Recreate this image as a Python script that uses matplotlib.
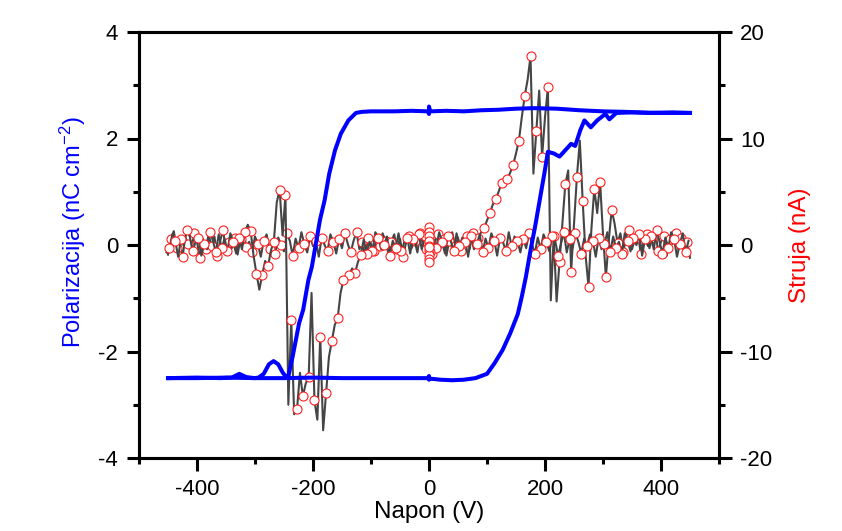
import numpy as np
import matplotlib
matplotlib.use('Agg')
import matplotlib.pyplot as plt
from matplotlib.ticker import MultipleLocator

plt.rcParams['font.family'] = ['Liberation Sans', 'DejaVu Sans']
plt.rcParams['mathtext.fontset'] = 'custom'
plt.rcParams['mathtext.rm'] = 'Liberation Sans'
plt.rcParams['mathtext.default'] = 'regular'
plt.rcParams['axes.unicode_minus'] = False

# polarization loop, upper branch (voltage going down)
v_down_P = [450, 420, 380, 340, 300, 260, 220, 180, 150, 120, 90, 60, 30, 2, 0, 0, -2,
            -30, -60, -100, -116, -126, -139, -152, -162, -172, -180, -188, -194, -202,
            -208, -217, -224, -235, -242, -246, -252, -260, -268, -276, -285, -294, -301,
            -315, -327, -340, -360, -400, -450]
P_down = [2.48, 2.49, 2.48, 2.50, 2.51, 2.53, 2.56, 2.57, 2.56, 2.54, 2.53, 2.51, 2.52, 2.51,
          2.60, 2.46, 2.51, 2.52, 2.51, 2.51, 2.50, 2.48, 2.34, 2.09, 1.78, 1.34, 0.84, 0.47,
          0.09, -0.41, -0.66, -1.22, -1.47, -2.09, -2.44, -2.48, -2.40, -2.24, -2.18, -2.24,
          -2.42, -2.49, -2.50, -2.48, -2.42, -2.49, -2.50, -2.49, -2.50]

# polarization loop, lower branch (voltage going up)
v_up_P = [-450, -400, -350, -300, -250, -200, -150, -100, -50, -2, 0, 0, 2, 20, 40, 60, 80,
          100, 113, 127, 140, 153, 160, 167, 175, 183, 191, 199, 205, 215, 225, 235, 245,
          252, 261, 268, 279, 290, 304, 311, 323, 350, 400, 450]
P_up = [-2.50, -2.50, -2.49, -2.50, -2.50, -2.49, -2.50, -2.50, -2.50, -2.50, -2.46, -2.53,
        -2.51, -2.53, -2.54, -2.53, -2.50, -2.42, -2.22, -1.97, -1.66, -1.30, -0.97, -0.60,
        -0.10, 0.35, 0.85, 1.35, 1.75, 1.72, 1.66, 1.78, 1.90, 1.86, 2.16, 2.34, 2.21, 2.34,
        2.46, 2.36, 2.48, 2.49, 2.48, 2.48]

# switching current, voltage going up from -450 to 450 in 5 V steps
I_up = [-0.9, 0.6, 1.3, -0.3, 0.4, -1.1, 0.7, 0.1, -0.7, 1.1,
        0.3, -1.2, 0.6, -0.4, 1.0, -0.1, 0.8, -1.0, 0.4, 1.4,
        -0.6, 0.3, -0.3, 0.7, -0.9, 0.6, 1.3, -0.2, 0.3, -0.7,
        0.8, 0.1, -1.1, 0.4, 1.0, -0.4, 0.3, -0.8, 0.7, 0.0,
        -0.6, 1.1, 0.4, -1.0, 0.6, -0.3, 1.2, 0.1, -0.7, 0.8,
        -0.1, 0.4, -1.1, 0.7, 0.0, -0.6, 1.0, 0.3, -0.8, 0.6,
        -0.3, 1.1, 0.1, -0.7, 0.4, 1.2, -0.4, 0.3, -1.0, 0.7,
        0.1, -0.6, 0.8, -0.1, 1.1, 0.4, -0.8, 0.3, 1.0, -0.4,
        0.6, -1.1, 0.1, 0.8, -0.3, 0.4, -0.7, 1.1, 0.0, -0.4,
        0.7, -0.8, 0.3, 1.0, -0.3, 0.6, -1.0, 0.4, 1.2, -0.1,
        0.7, -0.6, 0.3, 0.8, -0.4, 1.1, 0.1, 0.7, 1.2, 1.6,
        2.3, 3.0, 3.8, 4.3, 5.0, 5.8, 5.9, 6.2, 6.8, 7.5,
        8.6, 9.8, 12.0, 14.0, 15.5, 17.7, 6.7, 10.7, 14.5, 8.3,
        12.0, 14.8, -5.2, 0.8, -5.3, -1.6, 2.0, 5.7, 7.0, -2.5,
        2.0, 6.4, 9.8, 4.1, -1.0, -3.9, 1.5, 5.3, 3.0, 5.9,
        1.0, -3.0, 0.5, 3.3, 2.0, 0.2, 1.1, -0.7, 0.8, 1.4,
        -0.4, 0.6, 1.2, -0.8, 0.4, 1.0, -0.3, 0.7, 1.5, -0.6,
        0.3, 0.8, -1.0, 0.6, 0.1, 1.1, -0.4, 0.7, -0.8, 0.3,
        -1.2]

# switching current, voltage going down from 447.5 to -452.5 in 5 V steps
I_down = [0.4, -0.7, 1.1, 0.1, -1.1, 0.6, 1.2, -0.3, 0.7, -0.8,
          0.3, 1.4, -0.4, 0.8, -0.1, 0.6, -1.0, 1.0, 0.0, 0.7,
          -0.6, 0.4, 1.1, -0.8, 0.3, -0.3, 0.8, -0.7, 1.2, 0.1,
          -0.4, 0.7, -1.1, 0.4, 1.0, -0.1, 0.6, -0.8, 0.3, 1.1,
          -0.3, 0.6, -0.7, 1.2, 0.1, -1.0, 0.4, 0.8, -0.6, 0.3,
          1.0, -0.4, 0.7, -0.8, 0.1, 1.1, -0.3, 0.6, -0.7, 0.4,
          0.8, -0.1, 1.2, -0.6, 0.3, 0.7, -1.0, 0.4, 1.1, -0.3,
          0.6, -0.7, 1.0, 0.1, -0.4, 0.8, -1.1, 0.3, 0.7, -0.1,
          1.1, -0.6, 0.4, 0.8, -0.8, 0.3, 1.2, -0.3, 0.6, -0.7,
          0.1, 0.8, -0.4, 1.0, -0.1, 0.6, -0.8, 0.7, 0.3, -0.6,
          1.1, -0.3, 0.4, -1.0, 0.8, 0.0, -0.4, 0.7, 1.2, -0.6,
          0.3, -0.8, 0.5, -0.9, -1.6, -2.6, -2.2, -2.8, -3.0, -3.3,
          -4.5, -6.9, -7.5, -9.0, -10.5, -13.9, -17.4, -8.6, -16.4, -14.6,
          -4.5, -12.4, -13.0, -14.2, -12.0, -15.4, -15.9, -7.0, -15.0, 4.7,
          0.9, 5.2, 4.0, 0.3, -0.5, -2.0, -1.5, -2.8, -4.2, -2.7,
          -1.0, 1.3, 1.9, 1.2, -0.4, 0.7, -0.8, 0.3, 1.1, -0.6,
          0.6, -0.3, 1.0, -0.7, 0.4, 1.2, -0.4, 0.1, -1.0, 0.7,
          0.3, -0.6, 0.8, 1.4, -0.1, 0.6, -1.1, 0.4, 1.0, -0.3,
          -0.7]

# readings taken while the voltage sat at 0 V
I_zero = [0.3, 1.7, 1.2, 0.8, 0.4, -0.1, -0.5, -0.9, -1.3, -1.6, -0.2]

v_up_I = np.arange(-450, 451, 5)
v_down_I = np.arange(447.5, -453, -5)

fig = plt.figure(figsize=(8.42, 5.31), dpi=100)
ax = fig.add_axes([139/842, 1-458/531, 580/842, 426/531])
ax2 = ax.twinx()

cur_style = dict(color='#454545', lw=1.5, marker='o', ms=6.5, mfc='white',
                 mec='#ff2020', mew=0.8)
ax2.plot(v_up_I, I_up, markevery=(1, 2), **cur_style)
ax2.plot(v_down_I, I_down, markevery=(1, 2), **cur_style)
ax2.plot(np.zeros(len(I_zero)), I_zero, **cur_style)

ax.plot(v_down_P, P_down, color='#0000ff', lw=2.9, solid_joinstyle='round')
ax.plot(v_up_P, P_up, color='#0000ff', lw=2.9, solid_joinstyle='round')

# blue loop drawn above the current trace
ax.set_zorder(ax2.get_zorder() + 1)
ax.patch.set_visible(False)

ax.set_xlim(-500, 500)
ax.set_ylim(-4, 4)
ax2.set_ylim(-20, 20)
ax.xaxis.set_major_locator(MultipleLocator(200))
ax.xaxis.set_minor_locator(MultipleLocator(100))
ax.yaxis.set_major_locator(MultipleLocator(2))
ax.yaxis.set_minor_locator(MultipleLocator(1))
ax2.yaxis.set_major_locator(MultipleLocator(10))
ax2.yaxis.set_minor_locator(MultipleLocator(5))

for a in (ax, ax2):
    for s in a.spines.values():
        s.set_linewidth(2.2)
    a.tick_params(which='major', direction='out', length=9, width=2.2, labelsize=16, pad=6)
    a.tick_params(which='minor', direction='out', length=4.5, width=2.2)
ax.tick_params(top=False, which='both')

ax.set_xlabel('Napon (V)', fontsize=17.5, labelpad=1)
ax.set_ylabel(r'Polarizacija (nC cm$^{-2}$)', fontsize=17, color='#0000ff')
ax.yaxis.set_label_coords(-0.088, 0.53)
ax2.set_ylabel('Struja (nA)', fontsize=17.5, color='#ff0000', labelpad=12)

fig.savefig('out.png', dpi=100)
